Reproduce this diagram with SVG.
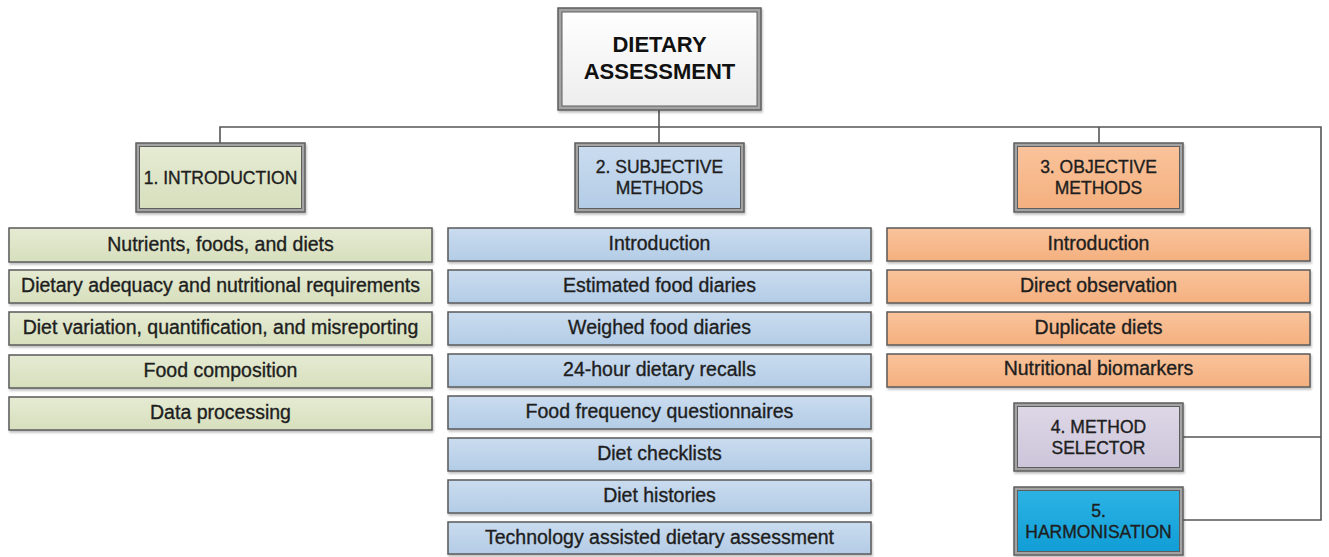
<svg xmlns="http://www.w3.org/2000/svg" width="1329" height="557" viewBox="0 0 1329 557">
<defs>
<linearGradient id="gG" x1="0" y1="0" x2="0" y2="1"><stop offset="0" stop-color="#e6ebd3"/><stop offset="1" stop-color="#d6dfbd"/></linearGradient>
<linearGradient id="gB" x1="0" y1="0" x2="0" y2="1"><stop offset="0" stop-color="#cadcef"/><stop offset="1" stop-color="#b3cce6"/></linearGradient>
<linearGradient id="gO" x1="0" y1="0" x2="0" y2="1"><stop offset="0" stop-color="#fac39b"/><stop offset="1" stop-color="#f4b07f"/></linearGradient>
<linearGradient id="gP" x1="0" y1="0" x2="0" y2="1"><stop offset="0" stop-color="#ddd7e6"/><stop offset="1" stop-color="#cdc5da"/></linearGradient>
<linearGradient id="gC" x1="0" y1="0" x2="0" y2="1"><stop offset="0" stop-color="#2cb3e4"/><stop offset="1" stop-color="#119ed6"/></linearGradient>
<linearGradient id="gW" x1="0" y1="0" x2="0" y2="1"><stop offset="0" stop-color="#ffffff"/><stop offset="1" stop-color="#ededed"/></linearGradient>
<filter id="sh" x="-5%" y="-10%" width="110%" height="130%"><feDropShadow dx="1" dy="2" stdDeviation="1.2" flood-color="#000" flood-opacity="0.25"/></filter>
</defs>
<style>
.t{font-family:"Liberation Sans",Arial,sans-serif;fill:#1e1e1e;stroke:#1e1e1e;stroke-width:0.35;text-anchor:middle}
.li{font-size:19.5px}
.hd{font-size:17.5px}
.top{font-size:22px;font-weight:bold;fill:#111;stroke:none}
.item{stroke:#5a5a5a;stroke-width:1.5;filter:url(#sh)}
.outer{fill:#a3a3a3;stroke:#5e5e5e;stroke-width:1.5;filter:url(#sh)}
.inner{stroke:#5e5e5e;stroke-width:1}
.con{fill:none;stroke:#555;stroke-width:1.6}
</style>
<rect width="1329" height="557" fill="#ffffff"/>
<g id="connectors">
<path class="con" d="M659 110V127M220 143V127H1321V520H1183M1099 127V143M659 127V143M1183 437H1321"/>
</g>
<g id="dietary-assessment">
<rect class="outer" x="558" y="8" width="203" height="102" fill="#c4c4c4"/>
<rect class="inner" x="562" y="12" width="195" height="94" fill="url(#gW)"/>
<text class="t top" x="659.5" y="52">DIETARY</text>
<text class="t top" x="659.5" y="79">ASSESSMENT</text>
</g>
<g id="introduction">
<rect class="outer" x="136" y="143" width="169" height="69"/>
<rect class="inner" x="139.5" y="146.5" width="162" height="62" fill="url(#gG)"/>
<text class="t hd" x="220.5" y="183.5">1. INTRODUCTION</text>
</g>
<g id="subjective">
<rect class="outer" x="575" y="143" width="169" height="69"/>
<rect class="inner" x="578.5" y="146.5" width="162" height="62" fill="url(#gB)"/>
<text class="t hd" x="659.5" y="173">2. SUBJECTIVE</text>
<text class="t hd" x="659.5" y="194">METHODS</text>
</g>
<g id="objective">
<rect class="outer" x="1014" y="143" width="169" height="69"/>
<rect class="inner" x="1017.5" y="146.5" width="162" height="62" fill="url(#gO)"/>
<text class="t hd" x="1098.5" y="173">3. OBJECTIVE</text>
<text class="t hd" x="1098.5" y="194">METHODS</text>
</g>
<g id="method-selector">
<rect class="outer" x="1014" y="403" width="169" height="68"/>
<rect class="inner" x="1017.5" y="406.5" width="162" height="61" fill="url(#gP)"/>
<text class="t hd" x="1098.5" y="432.5">4. METHOD</text>
<text class="t hd" x="1098.5" y="453.5">SELECTOR</text>
</g>
<g id="harmonisation">
<rect class="outer" x="1014" y="487" width="169" height="68" fill="#4a8fb0"/>
<rect class="inner" x="1017.5" y="490.5" width="162" height="61" fill="url(#gC)"/>
<text class="t hd" x="1098.5" y="516.5">5.</text>
<text class="t hd" x="1098.5" y="537.5">HARMONISATION</text>
</g>
<g id="intro-items">
<g id="i1"><rect class="item" x="9" y="228" width="423" height="34" fill="url(#gG)"/><text class="t li" x="220.5" y="251">Nutrients, foods, and diets</text></g>
<g id="i2"><rect class="item" x="9" y="270" width="423" height="33" fill="url(#gG)"/><text class="t li" x="220.5" y="292">Dietary adequacy and nutritional requirements</text></g>
<g id="i3"><rect class="item" x="9" y="312" width="423" height="33" fill="url(#gG)"/><text class="t li" x="220.5" y="334">Diet variation, quantification, and misreporting</text></g>
<g id="i4"><rect class="item" x="9" y="355" width="423" height="33" fill="url(#gG)"/><text class="t li" x="220.5" y="377">Food composition</text></g>
<g id="i5"><rect class="item" x="9" y="397" width="423" height="33" fill="url(#gG)"/><text class="t li" x="220.5" y="419">Data processing</text></g>
</g>
<g id="subjective-items">
<g id="s1"><rect class="item" x="448" y="228" width="423" height="33" fill="url(#gB)"/><text class="t li" x="659.5" y="250">Introduction</text></g>
<g id="s2"><rect class="item" x="448" y="270" width="423" height="33" fill="url(#gB)"/><text class="t li" x="659.5" y="292">Estimated food diaries</text></g>
<g id="s3"><rect class="item" x="448" y="312" width="423" height="33" fill="url(#gB)"/><text class="t li" x="659.5" y="334">Weighed food diaries</text></g>
<g id="s4"><rect class="item" x="448" y="354" width="423" height="33" fill="url(#gB)"/><text class="t li" x="659.5" y="376">24-hour dietary recalls</text></g>
<g id="s5"><rect class="item" x="448" y="396" width="423" height="33" fill="url(#gB)"/><text class="t li" x="659.5" y="418">Food frequency questionnaires</text></g>
<g id="s6"><rect class="item" x="448" y="438" width="423" height="33" fill="url(#gB)"/><text class="t li" x="659.5" y="460">Diet checklists</text></g>
<g id="s7"><rect class="item" x="448" y="480" width="423" height="33" fill="url(#gB)"/><text class="t li" x="659.5" y="502">Diet histories</text></g>
<g id="s8"><rect class="item" x="448" y="522" width="423" height="32" fill="url(#gB)"/><text class="t li" x="659.5" y="544">Technology assisted dietary assessment</text></g>
</g>
<g id="objective-items">
<g id="o1"><rect class="item" x="887" y="228" width="423" height="33" fill="url(#gO)"/><text class="t li" x="1098.5" y="250">Introduction</text></g>
<g id="o2"><rect class="item" x="887" y="270" width="423" height="33" fill="url(#gO)"/><text class="t li" x="1098.5" y="292">Direct observation</text></g>
<g id="o3"><rect class="item" x="887" y="312" width="423" height="33" fill="url(#gO)"/><text class="t li" x="1098.5" y="334">Duplicate diets</text></g>
<g id="o4"><rect class="item" x="887" y="354" width="423" height="33" fill="url(#gO)"/><text class="t li" x="1098.5" y="375">Nutritional biomarkers</text></g>
</g>
</svg>
